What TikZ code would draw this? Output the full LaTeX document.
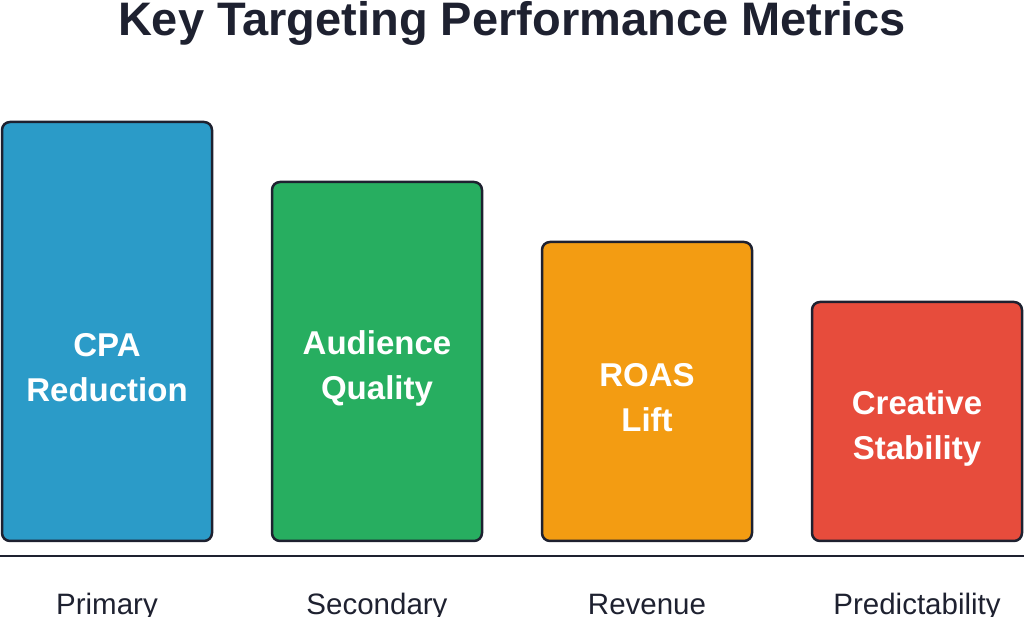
\documentclass[tikz,border=0pt]{standalone}
\usepackage{fontspec}
\setmainfont{Liberation Sans}
\definecolor{edge}{HTML}{1E2130}
\definecolor{cblue}{HTML}{2B9BC8}
\definecolor{cgreen}{HTML}{27AE60}
\definecolor{corange}{HTML}{F39C12}
\definecolor{cred}{HTML}{E74C3C}
\begin{document}
\begin{tikzpicture}[x=1pt,y=1pt,
 bar/.style={draw=edge,line width=2.5pt,rounded corners=8pt},
 btxt/.style={text=white,font=\bfseries\fontsize{33}{45}\selectfont,align=center},
 lab/.style={text=edge,font=\fontsize{29.5}{34}\selectfont,anchor=base}]
\clip (0,0) rectangle (1024,617);
\useasboundingbox (0,0) rectangle (1024,617);
\node[text=edge,font=\bfseries\fontsize{47}{56}\selectfont] (title) at (512,594) {Key Targeting Performance Metrics};
\path[bar,fill=cblue] (2,76) rectangle (212,495);
\path[bar,fill=cgreen] (272,76) rectangle (482,435);
\path[bar,fill=corange] (542,76) rectangle (752,375);
\path[bar,fill=cred] (812,76) rectangle (1022,315);
\node[btxt] (t1) at (107,249) {CPA\\Reduction};
\node[btxt] (t2) at (377,249) {Audience\\Quality};
\node[btxt] (t3) at (647,219) {ROAS\\Lift};
\node[btxt] (t4) at (917,189) {Creative\\Stability};
\draw[edge,line width=2pt] (0,61) -- (1024,61);
\node[lab] (l1) at (107,2) {Primary};
\node[lab] (l2) at (377,2) {Secondary};
\node[lab] (l3) at (647,2) {Revenue};
\node[lab] (l4) at (917,2) {Predictability};
\end{tikzpicture}
\end{document}
